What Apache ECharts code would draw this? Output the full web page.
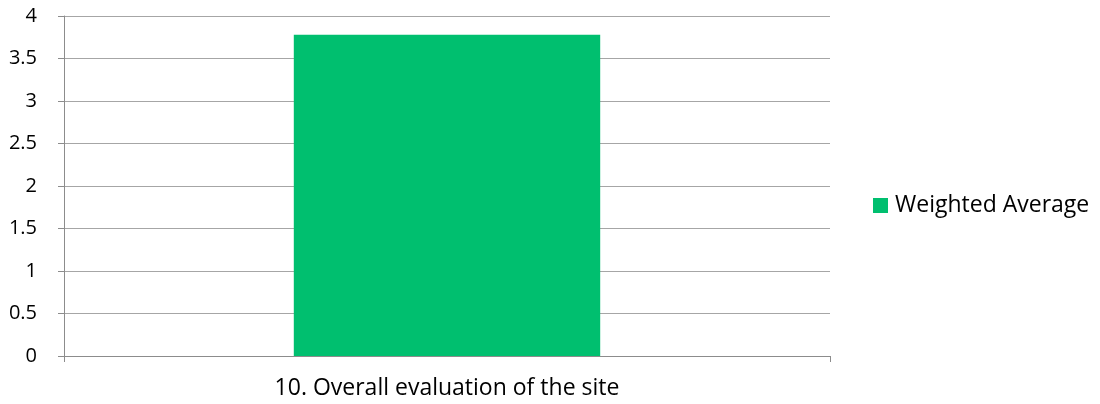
<!DOCTYPE html>
<html>
<head>
<meta charset="utf-8">
<script src="https://cdn.jsdelivr.net/npm/echarts@6/dist/echarts.min.js"></script>
<style>html,body{margin:0;padding:0;background:#fff}#c{width:1100px;height:404px}</style>
</head>
<body>
<div id="c"></div>
<script>
const categories = ["10. Overall evaluation of the site"];
const weightedAverage = [3.78];
const yTicks = [0, 0.5, 1, 1.5, 2, 2.5, 3, 3.5, 4];

const chart = echarts.init(document.getElementById('c'), null, {renderer: 'canvas'});
const font = "'Open Sans', 'Liberation Sans', sans-serif";
chart.setOption({
  animation: false,
  textStyle: {fontFamily: font},
  grid: {left: 64, right: 270, top: 16, bottom: 48, containLabel: false, outerBoundsMode: 'none'},
  legend: {
    data: ['Weighted Average'],
    orient: 'vertical',
    left: 873, top: 194,
    padding: 0,
    itemWidth: 15, itemHeight: 15, itemGap: 10,
    icon: 'rect',
    textStyle: {fontSize: 23, color: '#000', fontFamily: font, padding: [0,0,0,2]}
  },
  xAxis: {
    type: 'category',
    data: categories,
    axisLine: {lineStyle: {color: '#8c8c8c', width: 1}},
    axisTick: {show: true, length: 6, lineStyle: {color: '#8c8c8c'}},
    axisLabel: {fontSize: 23, color: '#000', margin: 21, fontFamily: font}
  },
  yAxis: {
    type: 'value',
    min: 0, max: 4, interval: 0.5,
    axisLine: {show: true, lineStyle: {color: '#8c8c8c', width: 1}},
    axisTick: {show: true, length: 6, lineStyle: {color: '#8c8c8c'}},
    splitLine: {lineStyle: {color: '#a6a6a6', width: 1}},
    axisLabel: {fontSize: 20, color: '#000', margin: 27, fontFamily: font,
      formatter: v => yTicks.includes(v) ? String(v) : ''}
  },
  series: [{
    name: 'Weighted Average',
    type: 'bar',
    data: weightedAverage,
    barWidth: '40%',
    itemStyle: {color: '#00bf6f'}
  }]
});
</script>
</body>
</html>
